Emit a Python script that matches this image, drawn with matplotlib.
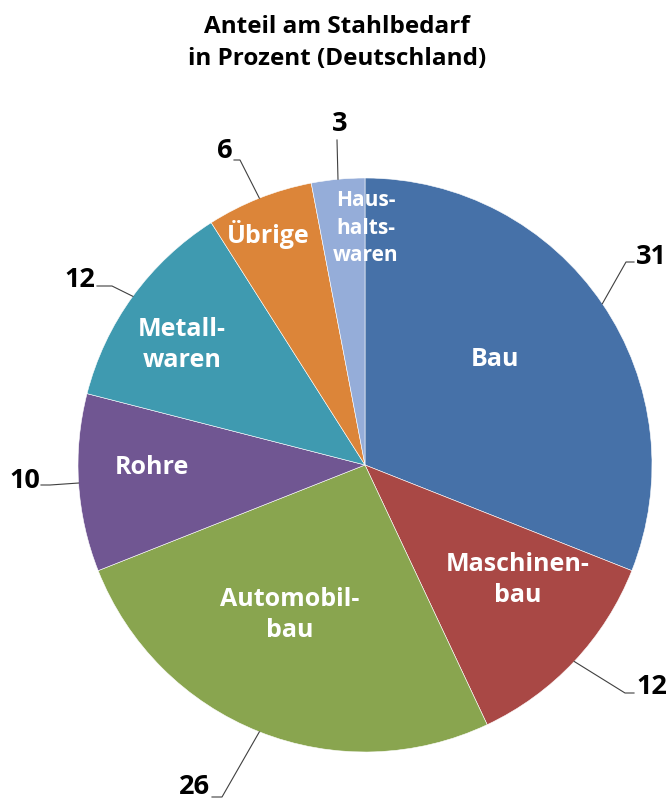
import matplotlib.pyplot as plt
import numpy as np

plt.rcParams['font.family'] = ['Open Sans', 'DejaVu Sans']

# data
labels = ["Bau", "Maschinen-\nbau", "Automobil-\nbau", "Rohre", "Metall-\nwaren", "Übrige", "Haus-\nhalts-\nwaren"]
values = [31, 12, 26, 10, 12, 6, 3]
colors = ["#4671A8", "#A94845", "#89A54F", "#705692", "#3F9AB0", "#DC8539", "#95ADD9"]

# layout (pixel coords, y up)
W, H = 668, 799
cx, cy, R = 365, 799 - 465, 287

fig = plt.figure(figsize=(W / 100, H / 100), dpi=100)
ax = fig.add_axes([0, 0, 1, 1])

wedges, _ = ax.pie(values, colors=colors, startangle=90, counterclock=False,
                   center=(cx, cy), radius=R, frame=True,
                   wedgeprops=dict(edgecolor='white', linewidth=0.4))
ax.set_xlim(0, W)
ax.set_ylim(0, H)
ax.axis('off')

# inner labels
inner_pos = [(495, 360), (518, 580), (290, 615), (152, 467), (182, 345), (268, 234), (366, 228)]
inner_size = [18, 18, 18, 18, 18, 18, 15]
inner_ls = [1.3, 1.3, 1.3, 1.3, 1.3, 1.3, 1.4]
for lab, (x, y), fs, ls in zip(labels, inner_pos, inner_size, inner_ls):
    ax.text(x, H - y, lab, color='white', fontsize=fs, fontweight='bold',
            ha='center', va='center', linespacing=ls)

# outside value labels with leader lines
elbows = [(626, 262), (625, 693), (222, 797), (50, 485), (112, 286), (240, 160), (337, 140)]
ends = [(634, 262), (634, 693), (212, 797), (41, 485), (97, 286), (234, 160), (337, 140)]
text_pos = [(636, 257), (636, 687), (210, 787), (40, 481), (95, 280), (233, 151), (340, 124)]
aligns = ['left', 'left', 'right', 'right', 'right', 'right', 'center']

cum = np.cumsum([0] + values)
for i, v in enumerate(values):
    mid = np.deg2rad(90 - 3.6 * (cum[i] + v / 2))
    ax0, ay0 = cx + R * np.cos(mid), cy + R * np.sin(mid)
    ex, ey = elbows[i]
    fx, fy = ends[i]
    ax.plot([ax0, ex, fx], [ay0, H - ey, H - fy], color='#404040', lw=0.8)
    tx, ty = text_pos[i]
    ax.text(tx, H - ty, str(v), color='black', fontsize=19.5, fontweight='bold',
            ha=aligns[i], va='center')

ax.text(W / 2 + 3, H - 43, "Anteil am Stahlbedarf\nin Prozent (Deutschland)",
        ha='center', va='center', fontsize=17.5, fontweight='bold', linespacing=1.45)

fig.savefig("out.png", dpi=100)
